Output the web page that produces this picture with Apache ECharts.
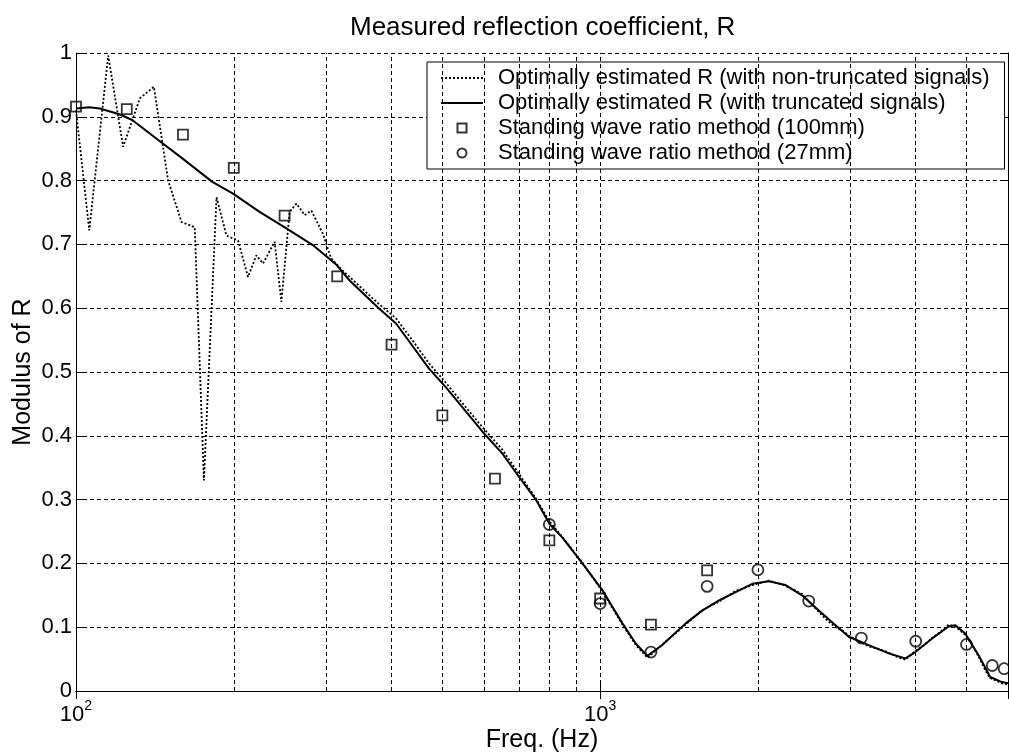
<!DOCTYPE html>
<html>
<head>
<meta charset="utf-8">
<script src="https://cdn.jsdelivr.net/npm/echarts@6/dist/echarts.min.js"></script>
<style>html,body{margin:0;padding:0;background:#fff}#c{width:1009px;height:756px}</style>
</head>
<body>
<div id="c"></div>
<script>
// Optimally estimated R (with non-truncated signals) — dotted
const nonTruncFreq = [100, 106, 115.2, 123, 132.4, 140.8, 149.9, 159, 168.5, 175.4, 185.4, 193.6, 203.8, 212.9, 220.9, 227.4, 239.3, 246.5, 255.6, 263.3, 273.1, 281.2, 295.8, 302.4, 306.9,
  320, 348, 379, 408, 440, 472, 508, 550, 597, 651, 701, 754, 800, 848, 925, 1010, 1103, 1170, 1231, 1314, 1400, 1456, 1566, 1686, 1814, 1951, 2099, 2258, 2428, 2613, 2700, 2812, 2900, 2981, 3100, 3253, 3400, 3553, 3700, 3823, 3994, 4150, 4295, 4450, 4622, 4760, 4972, 5100, 5273, 5450, 5550, 5700, 5840, 6000];
const nonTruncR = [0.910, 0.722, 0.996, 0.853, 0.929, 0.947, 0.800, 0.735, 0.727, 0.330, 0.774, 0.714, 0.706, 0.649, 0.683, 0.670, 0.704, 0.610, 0.751, 0.764, 0.746, 0.753, 0.717, 0.693, 0.678,
  0.662, 0.634, 0.606, 0.584, 0.548, 0.513, 0.483, 0.448, 0.413, 0.378, 0.340, 0.302, 0.266, 0.241, 0.201, 0.156, 0.104, 0.072, 0.052, 0.073, 0.092, 0.104, 0.127, 0.140, 0.157, 0.166, 0.173, 0.165, 0.152, 0.124, 0.112, 0.100, 0.095, 0.087, 0.079, 0.070, 0.066, 0.060, 0.053, 0.049, 0.063, 0.072, 0.083, 0.092, 0.104, 0.101, 0.088, 0.075, 0.054, 0.030, 0.020, 0.016, 0.012, 0.010];

// Optimally estimated R (with truncated signals) — solid
const truncFreq = [100, 106, 111, 121, 128, 146, 160, 182, 199, 224, 252, 283, 314, 333, 379, 408, 472, 508, 597, 651, 701, 754, 800, 848, 925, 1010, 1103, 1170, 1231, 1314, 1353, 1456, 1566, 1686, 1814, 1951, 2099, 2258, 2428, 2613, 2812, 2981, 3253, 3553, 3823, 3994, 4295, 4622, 4760, 4972, 5273, 5550, 5840, 6000];
const truncR = [0.913, 0.915, 0.913, 0.904, 0.895, 0.859, 0.834, 0.798, 0.780, 0.751, 0.725, 0.699, 0.668, 0.643, 0.599, 0.576, 0.505, 0.476, 0.406, 0.372, 0.335, 0.300, 0.262, 0.240, 0.200, 0.158, 0.106, 0.074, 0.055, 0.072, 0.082, 0.106, 0.126, 0.142, 0.155, 0.168, 0.172, 0.166, 0.150, 0.126, 0.103, 0.085, 0.072, 0.059, 0.051, 0.061, 0.082, 0.101, 0.103, 0.090, 0.056, 0.022, 0.014, 0.012];

// Standing wave ratio method (100mm) — squares
const swr100Freq = [100, 125, 160, 200, 250, 315, 400, 500, 630, 800, 1000, 1250, 1600];
const swr100R = [0.916, 0.912, 0.872, 0.820, 0.745, 0.650, 0.543, 0.432, 0.333, 0.236, 0.145, 0.104, 0.189];

// Standing wave ratio method (27mm) — circles
const swr27Freq = [800, 1000, 1250, 1600, 2000, 2500, 3150, 4000, 5000, 5600, 5900];
const swr27R = [0.261, 0.137, 0.061, 0.164, 0.190, 0.141, 0.083, 0.078, 0.073, 0.040, 0.035];

// minor (vertical) grid frequencies on the log axis
const gridFreqs = [200, 300, 400, 500, 600, 700, 800, 900, 1000, 2000, 3000, 4000, 5000];

const zip = (xs, ys) => xs.map((x, i) => [x, ys[i]]);
const FONT = '"Liberation Sans", Arial, Helvetica, sans-serif';
const dash = [4, 3];
const NAMES = ['Optimally estimated R (with non-truncated signals)', 'Optimally estimated R (with truncated signals)',
               'Standing wave ratio method (100mm)', 'Standing wave ratio method (27mm)'];

const chart = echarts.init(document.getElementById('c'), null, {renderer: 'canvas'});
chart.setOption({
  animation: false,
  backgroundColor: '#fff',
  textStyle: {fontFamily: FONT, color: '#000'},
  title: {
    text: 'Measured reflection coefficient, R',
    left: 350, top: 15, padding: 0,
    textStyle: {fontFamily: FONT, fontSize: 26, fontWeight: 'normal', color: '#000'}
  },
  legend: {
    data: [
      {name: NAMES[0], itemStyle: {opacity: 0}},
      {name: NAMES[1], itemStyle: {opacity: 0}},
      {name: NAMES[2], icon: 'path://M0,0L10,0L10,10L0,10Z'},
      {name: NAMES[3], icon: 'circle'}
    ],
    orient: 'vertical', left: 427, top: 62,
    padding: [3.5, 15, 3.5, 13],
    itemGap: 0, itemWidth: 42, itemHeight: 9,
    backgroundColor: '#fff', borderColor: '#000', borderWidth: 1, borderRadius: 0,
    textStyle: {fontFamily: FONT, fontSize: 22, color: '#000', lineHeight: 25, padding: [0, 0, 0, 10]},
    selectedMode: false
  },
  grid: {left: 76, top: 53, width: 932, height: 638, containLabel: false, outerBoundsMode: 'none'},
  xAxis: [{
    type: 'log', logBase: 10, min: 100, max: 6000,
    name: 'Freq. (Hz)', nameLocation: 'middle', nameGap: 37, nameMoveOverlap: false,
    nameTextStyle: {fontFamily: FONT, fontSize: 25, color: '#000'},
    axisLine: {lineStyle: {color: '#000', width: 1}},
    axisTick: {inside: true, length: 8, lineStyle: {color: '#000'}},
    splitLine: {show: false},
    axisLabel: {
      margin: 8, showMaxLabel: false,
      formatter: v => {
        const e = Math.round(Math.log10(v));
        if (Math.abs(Math.log10(v) - e) > 1e-6) return '';
        return '{b|10}{s|' + e + '}';
      },
      rich: {
        b: {fontFamily: FONT, fontSize: 22, lineHeight: 27, verticalAlign: 'bottom', color: '#000'},
        s: {fontFamily: FONT, fontSize: 14, lineHeight: 14, verticalAlign: 'top', color: '#000'}
      }
    }
  }, {
    type: 'log', logBase: 10, min: 100, max: 6000, position: 'top',
    axisLine: {show: true, lineStyle: {color: '#000', width: 1}},
    axisTick: {inside: true, length: 8, lineStyle: {color: '#000'}},
    axisLabel: {show: false}, splitLine: {show: false}
  }],
  yAxis: [{
    type: 'value', min: 0, max: 1, interval: 0.1,
    name: 'Modulus of R', nameLocation: 'middle', nameGap: 40, nameMoveOverlap: false,
    nameTextStyle: {fontFamily: FONT, fontSize: 25, color: '#000'},
    axisLine: {show: true, lineStyle: {color: '#000', width: 1}},
    axisTick: {show: true, inside: true, length: 8, lineStyle: {color: '#000'}},
    axisLabel: {fontFamily: FONT, fontSize: 22, color: '#000', margin: 4},
    splitLine: {show: true, lineStyle: {color: '#000', width: 1, type: dash}}
  }, {
    type: 'value', min: 0, max: 1, interval: 0.1, position: 'right',
    axisLine: {show: true, lineStyle: {color: '#000', width: 1}},
    axisTick: {show: true, inside: true, length: 8, lineStyle: {color: '#000'}},
    axisLabel: {show: false}, splitLine: {show: false}
  }],
  series: [
    {
      name: 'grid', type: 'line', data: [], z: 1, silent: true,
      markLine: {
        silent: true, symbol: ['none', 'none'], animation: false,
        label: {show: false},
        lineStyle: {color: '#000', width: 1, type: dash},
        emphasis: {disabled: true},
        data: gridFreqs.map(f => ({xAxis: f}))
      }
    },
    {
      name: NAMES[0], type: 'line', z: 3,
      data: zip(nonTruncFreq, nonTruncR), symbol: 'none', showSymbol: false,
      lineStyle: {color: '#000', width: 1.8, type: [2, 2]}, itemStyle: {color: '#000'}
    },
    {
      name: NAMES[1], type: 'line', z: 4,
      data: zip(truncFreq, truncR), symbol: 'none', showSymbol: false,
      lineStyle: {color: '#000', width: 2}, itemStyle: {color: '#000'}
    },
    {
      name: NAMES[2], type: 'scatter', z: 5,
      data: zip(swr100Freq, swr100R), symbol: 'rect', symbolSize: 10,
      itemStyle: {color: 'rgba(0,0,0,0)', borderColor: '#000', borderWidth: 1.8}
    },
    {
      name: NAMES[3], type: 'scatter', z: 5,
      data: zip(swr27Freq, swr27R), symbol: 'circle', symbolSize: 11,
      itemStyle: {color: 'rgba(0,0,0,0)', borderColor: '#000', borderWidth: 1.8}
    }
  ]
});
</script>
</body>
</html>
